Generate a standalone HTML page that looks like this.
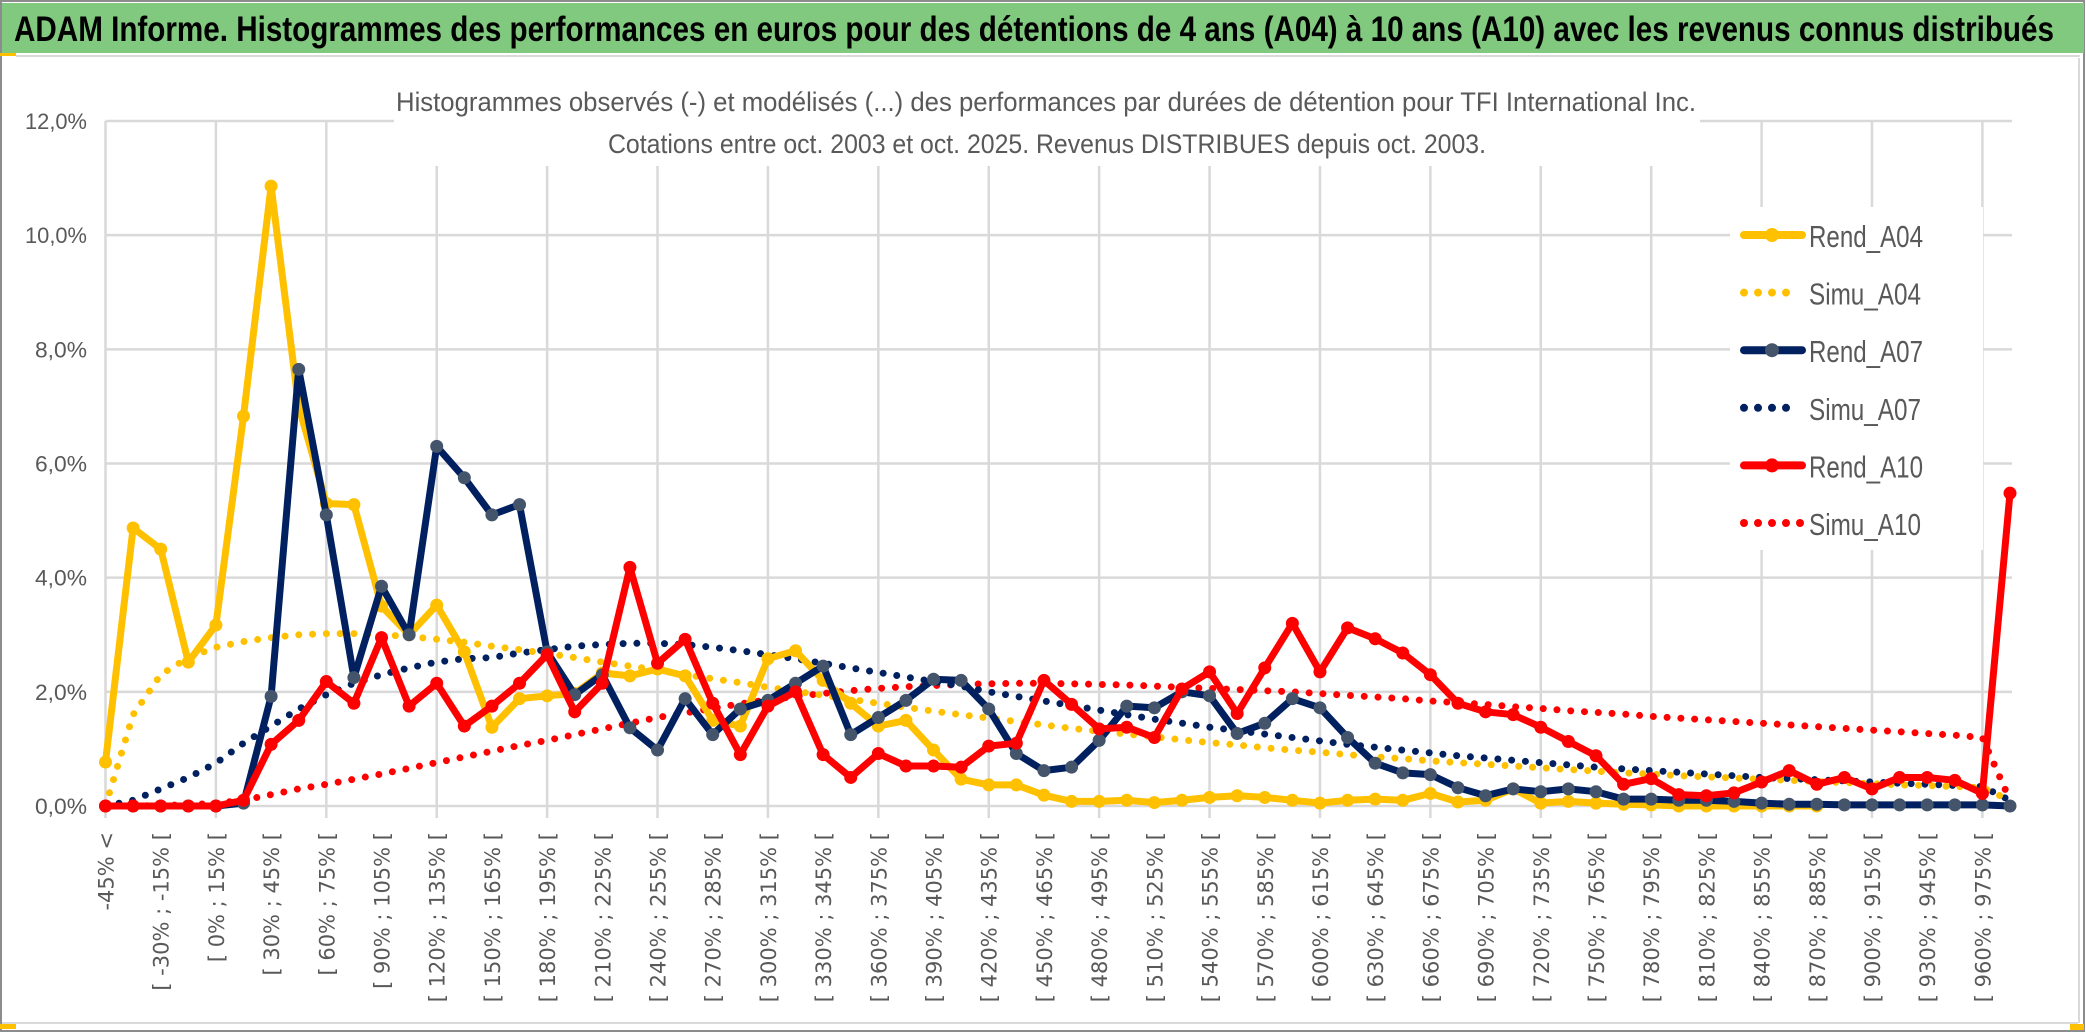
<!DOCTYPE html>
<html><head><meta charset="utf-8"><style>
html,body{margin:0;padding:0;background:#fff;}
svg{display:block;}
</style></head><body>
<svg id="chart" width="2086" height="1033" viewBox="0 0 2086 1033" xmlns="http://www.w3.org/2000/svg">
  <rect x="0" y="0" width="2086" height="1033" fill="#fff"/>
  <rect x="1" y="1" width="2083" height="1030" fill="none" stroke="#8c8c8c" stroke-width="2"/>
  <rect x="2" y="3" width="2082" height="50" fill="#80C97F"/>
  <text x="14" y="41" font-family="Liberation Sans, sans-serif" font-weight="bold" font-size="35" fill="#000" textLength="2040" lengthAdjust="spacingAndGlyphs">ADAM Informe. Histogrammes des performances en euros pour des détentions de 4 ans (A04) à 10 ans (A10) avec les revenus connus distribués</text>
  <rect x="0" y="53" width="16" height="3" fill="#FFC000"/>
  <line x1="16" y1="56" x2="2080" y2="56" stroke="#d9d9d9" stroke-width="2"/>
  <line x1="2" y1="1023" x2="2078" y2="1023" stroke="#d9d9d9" stroke-width="2"/>
  <line x1="2079" y1="58" x2="2079" y2="1023" stroke="#d9d9d9" stroke-width="2"/>
  <rect x="0" y="1024" width="16" height="5" fill="#FFC000"/>
  <rect x="2070" y="1024" width="14" height="6" fill="#FFC000"/>
  <g id="grid"></g>
  <rect x="394" y="80" width="1306" height="86" fill="#fff"/>
  <text x="1046" y="111" text-anchor="middle" font-family="Liberation Sans, sans-serif" font-size="27" fill="#595959" textLength="1300" lengthAdjust="spacingAndGlyphs">Histogrammes observés (-) et modélisés (...) des performances par durées de détention pour TFI International Inc.</text>
  <text x="1047" y="153" text-anchor="middle" font-family="Liberation Sans, sans-serif" font-size="27" fill="#595959" textLength="878" lengthAdjust="spacingAndGlyphs">Cotations entre oct. 2003 et oct. 2025. Revenus DISTRIBUES depuis oct. 2003.</text>
  <g id="yticks"></g>
  <g id="xticks"></g>
  <g id="series"></g>
  <g id="legend"></g>
</svg>
<script>
const categories = (function(){const c=['-45% <'];for(let v=-45;v<=975;v+=15){c.push('[ '+v+'% ; '+(v+15)+'% [');}return c.slice(0,70);})();
const yTicks = [0,2,4,6,8,10,12];
const yTickLabels = ['0,0%','2,0%','4,0%','6,0%','8,0%','10,0%','12,0%'];
const rendA04 = [0.77,4.87,4.5,2.52,3.17,6.83,10.86,7.0,5.3,5.28,3.5,3.0,3.52,2.7,1.38,1.88,1.93,1.97,2.33,2.28,2.4,2.28,1.5,1.4,2.58,2.72,2.2,1.8,1.4,1.5,0.98,0.47,0.37,0.37,0.19,0.08,0.08,0.1,0.06,0.1,0.15,0.18,0.15,0.1,0.05,0.1,0.12,0.1,0.22,0.07,0.1,0.3,0.05,0.08,0.05,0.03,0.02,0.0,0.0,0.0,0.0,0.0,0.0,null,null,null,null,null,null,null];
const rendA07 = [0,0,0,0,0,0.05,1.92,7.65,5.1,2.25,3.85,3.0,6.3,5.75,5.1,5.28,2.7,1.95,2.3,1.37,0.98,1.88,1.25,1.7,1.85,2.15,2.45,1.25,1.55,1.85,2.22,2.2,1.7,0.92,0.62,0.68,1.15,1.75,1.72,2.0,1.93,1.27,1.45,1.88,1.72,1.2,0.75,0.58,0.55,0.32,0.18,0.3,0.25,0.3,0.25,0.12,0.12,0.1,0.1,0.08,0.05,0.03,0.03,0.02,0.02,0.02,0.02,0.02,0.02,0.0];
const rendA10 = [0,0,0,0,0,0.1,1.08,1.5,2.18,1.8,2.95,1.75,2.15,1.4,1.75,2.15,2.65,1.65,2.15,4.18,2.5,2.92,1.8,0.9,1.75,2.0,0.9,0.5,0.92,0.7,0.7,0.68,1.05,1.1,2.2,1.78,1.35,1.38,1.2,2.05,2.35,1.62,2.42,3.2,2.35,3.12,2.93,2.68,2.3,1.8,1.65,1.6,1.38,1.13,0.88,0.38,0.48,0.2,0.18,0.23,0.42,0.62,0.38,0.5,0.3,0.5,0.5,0.45,0.22,5.48];
const simuA04 = [0.0,1.6,2.3,2.6,2.78,2.88,2.95,3.0,3.02,3.02,3.0,2.97,2.92,2.87,2.8,2.74,2.67,2.6,2.52,2.45,2.38,2.3,2.23,2.16,2.08,2.01,1.94,1.87,1.8,1.73,1.66,1.6,1.54,1.48,1.42,1.36,1.31,1.26,1.21,1.16,1.11,1.07,1.02,0.98,0.94,0.9,0.86,0.83,0.79,0.76,0.73,0.7,0.67,0.64,0.61,0.58,0.56,0.53,0.51,0.49,0.47,0.45,0.43,0.41,0.39,0.37,0.36,0.34,0.32,0.1];
const simuA07 = [0.0,0.1,0.3,0.5,0.75,1.1,1.4,1.7,1.95,2.15,2.3,2.42,2.52,2.58,2.6,2.68,2.74,2.8,2.83,2.85,2.85,2.83,2.78,2.72,2.65,2.58,2.5,2.42,2.34,2.26,2.18,2.1,2.0,1.92,1.84,1.76,1.68,1.6,1.52,1.45,1.38,1.32,1.26,1.2,1.14,1.08,1.03,0.98,0.93,0.88,0.84,0.8,0.76,0.72,0.68,0.65,0.62,0.59,0.56,0.53,0.5,0.48,0.46,0.44,0.42,0.4,0.38,0.36,0.34,0.1];
const simuA10 = [0.0,0.0,0.01,0.02,0.05,0.1,0.2,0.3,0.38,0.47,0.56,0.66,0.76,0.86,0.96,1.06,1.15,1.25,1.35,1.45,1.55,1.63,1.71,1.79,1.86,1.92,1.97,2.02,2.06,2.09,2.11,2.13,2.14,2.15,2.15,2.14,2.13,2.12,2.1,2.08,2.06,2.04,2.02,2.0,1.97,1.94,1.91,1.88,1.84,1.81,1.78,1.74,1.71,1.67,1.64,1.61,1.57,1.54,1.51,1.48,1.45,1.42,1.39,1.36,1.33,1.3,1.27,1.24,1.2,0.1];

const NS='http://www.w3.org/2000/svg';
const X0=105.5, X1=2010, Y0=806, YTOP=121, YMAX=12;
function xPos(i){return X0+i*(X1-X0)/(categories.length-1);}
function yPos(v){return Y0-(v/YMAX)*(Y0-YTOP);}
function mk(tag,attrs,parent){const e=document.createElementNS(NS,tag);for(const k in attrs)e.setAttribute(k,attrs[k]);parent.appendChild(e);return e;}

const grid=document.getElementById('grid');
yTicks.forEach(function(t){
  const l=mk('line',{x1:X0,x2:X1+2,y1:yPos(t),y2:yPos(t),stroke:'#d9d9d9','stroke-width':2.5},grid);
  
  
});
for(let i=0;i<categories.length;i+=4){
  const l=mk('line',{x1:xPos(i),x2:xPos(i),y1:YTOP,y2:Y0+12,stroke:'#d9d9d9','stroke-width':2.5},grid);
  
  
}

const yt=document.getElementById('yticks');
yTicks.forEach(function(t,k){
  const tx=mk('text',{x:87,y:yPos(t)+8,'text-anchor':'end','font-family':'Liberation Sans, sans-serif','font-size':22,fill:'#595959',textLength:(t>=10?62:52),lengthAdjust:'spacingAndGlyphs'},yt);
  tx.textContent=yTickLabels[k];
  
  
});

const xt=document.getElementById('xticks');
for(let i=0;i<categories.length;i+=2){
  const x=xPos(i)+8, y=832;
  const tx=mk('text',{x:x,y:y,transform:'rotate(-90 '+x+' '+y+')','text-anchor':'end','font-family':'DejaVu Sans, sans-serif','font-size':21,fill:'#595959'},xt);
  tx.textContent=categories[i];
  
  
}

const sg=document.getElementById('series');
function pathFor(arr){let d='',pen=false;arr.forEach(function(v,i){if(v===null){pen=false;return;}d+=(pen?'L':'M')+xPos(i).toFixed(1)+' '+yPos(v).toFixed(1)+' ';pen=true;});return d;}
function dotted(arr,color,name){
  const p=mk('path',{d:pathFor(arr),fill:'none',stroke:color,'stroke-width':7,'stroke-linecap':'round','stroke-dasharray':'0 13.8'},sg);
  
  
}
function solid(arr,color,mcolor,name){
  const g=mk('g',{},sg);
  
  
  mk('path',{d:pathFor(arr),fill:'none',stroke:color,'stroke-width':7,'stroke-linejoin':'round'},g);
  arr.forEach(function(v,i){if(v===null)return;
    const c=mk('circle',{cx:xPos(i),cy:yPos(v),r:6.5,fill:mcolor},g);
    
    
  });
}
dotted(simuA10,'#FF0000','simu-a10-line');
dotted(simuA07,'#002060','simu-a07-line');
dotted(simuA04,'#FFC000','simu-a04-line');
solid(rendA04,'#FFC000','#FFC000','rend-a04-line');
solid(rendA07,'#002060','#44546A','rend-a07-line');
solid(rendA10,'#FF0000','#FF0000','rend-a10-line');

const lg=document.getElementById('legend');
const lbg=mk('rect',{x:1730,y:207,width:253,height:343,fill:'#fff'},lg);


const legendNames=['Rend_A04','Simu_A04','Rend_A07','Simu_A07','Rend_A10','Simu_A10'];
const legendColors=['#FFC000','#FFC000','#002060','#002060','#FF0000','#FF0000'];
const legendMarker=['#FFC000',null,'#44546A',null,'#FF0000',null];
legendNames.forEach(function(n,k){
  const y=235+k*57.6;
  const g=mk('g',{},lg);
  
  
  if(legendMarker[k]){
    mk('line',{x1:1744,x2:1802,y1:y,y2:y,stroke:legendColors[k],'stroke-width':8,'stroke-linecap':'round'},g);
    mk('circle',{cx:1772,cy:y,r:7,fill:legendMarker[k]},g);
  } else {
    mk('line',{x1:1744,x2:(k===5?1802:1792),y1:y,y2:y,stroke:legendColors[k],'stroke-width':8,'stroke-linecap':'round','stroke-dasharray':'0 14'},g);
  }
  const t=mk('text',{x:1809,y:y+12,'font-family':'Liberation Sans, sans-serif','font-size':31,fill:'#595959',textLength:(k%2===0?114:112),lengthAdjust:'spacingAndGlyphs'},g);
  t.textContent=n;
});
</script>
</body></html>
